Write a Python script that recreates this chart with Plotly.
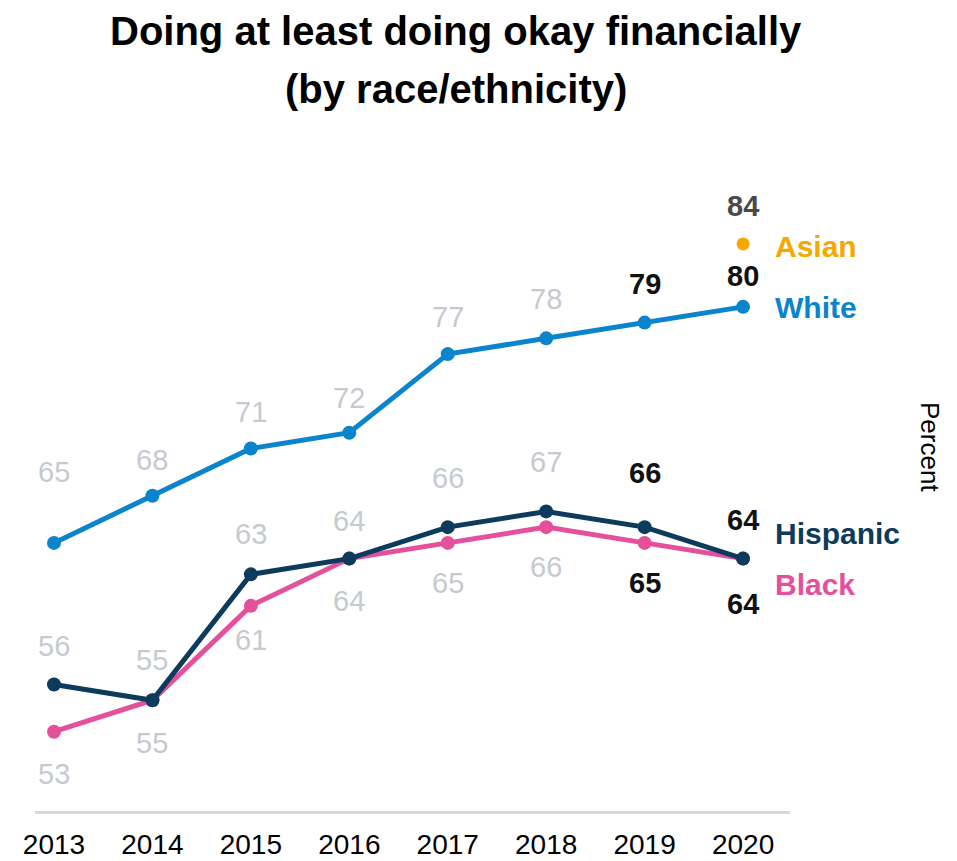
import plotly.graph_objects as go

years = [2013, 2014, 2015, 2016, 2017, 2018, 2019, 2020]
white = [65, 68, 71, 72, 77, 78, 79, 80]
hispanic = [56, 55, 63, 64, 66, 67, 66, 64]
black = [53, 55, 61, 64, 65, 66, 65, 64]
asian_year = [2020]
asian = [84]

# value-label vertical offsets (px) per point
white_shift = [71, 36, 36, 35, 37, 39, 39, 31]
hisp_shift = [39, 40, 40, 38, 49, 49, 54, 39]
black_shift = [-42, -43, -34, -42, -40, -40, -40, -45]

C_WHITE = "#0a84cc"
C_HISP = "#0d3b5b"
C_BLACK = "#e4509c"
C_ASIAN = "#f7a800"
C_GRAY = "#c6cad0"

FONT = "Liberation Sans Narrow, Arial Narrow, Liberation Sans, Arial, sans-serif"

fig = go.Figure()
for vals, col in [(black, C_BLACK), (hispanic, C_HISP), (white, C_WHITE)]:
    fig.add_trace(go.Scatter(
        x=years, y=vals, mode="lines+markers",
        line=dict(color=col, width=5),
        marker=dict(color=col, size=14),
        hoverinfo="skip", showlegend=False,
    ))
fig.add_trace(go.Scatter(
    x=asian_year, y=asian, mode="markers",
    marker=dict(color=C_ASIAN, size=13),
    hoverinfo="skip", showlegend=False,
))

ann = []


def value_label(x, y, shift, bold, color):
    txt = f"<b>{y}</b>" if bold else str(y)
    ann.append(dict(x=x, y=y, xref="x", yref="y", text=txt, showarrow=False,
                    yshift=shift, xanchor="center", yanchor="middle",
                    font=dict(family=FONT, size=29, color=color)))


for series, shifts in [(white, white_shift), (hispanic, hisp_shift), (black, black_shift)]:
    for i, (yr, v) in enumerate(zip(years, series)):
        bold = yr >= 2019
        value_label(yr, v, shifts[i], bold, "#111111" if bold else C_GRAY)
value_label(asian_year[0], asian[0], 38, True, "#4a4a4a")

# series names at the right end
for name, yv, col, ys in [("Asian", 84, C_ASIAN, -3), ("White", 80, C_WHITE, -1),
                          ("Hispanic", 64, C_HISP, 25), ("Black", 64, C_BLACK, -26)]:
    ann.append(dict(x=2020, y=yv, xref="x", yref="y", text=f"<b>{name}</b>",
                    showarrow=False, xanchor="left", yanchor="middle",
                    xshift=30, yshift=ys,
                    font=dict(family=FONT, size=30, color=col)))

# two-line heading
ann.append(dict(x=456, y=861 - 31, xref="paper", yref="paper", text="<b>Doing at least doing okay financially</b>",
                showarrow=False, xanchor="center", yanchor="middle",
                font=dict(family=FONT, size=40, color="#000000")))
ann.append(dict(x=456, y=861 - 89, xref="paper", yref="paper", text="<b>(by race/ethnicity)</b>",
                showarrow=False, xanchor="center", yanchor="middle",
                font=dict(family=FONT, size=40, color="#000000")))
ann.append(dict(x=930, y=861 - 447, xref="paper", yref="paper", text="Percent",
                showarrow=False, textangle=90, xanchor="center", yanchor="middle",
                font=dict(family=FONT, size=26, color="#000000")))

# convert pixel-positioned paper annotations into paper fractions
L, R, T, B = 35, 167, 181, 50
W, H = 957, 861
pw, ph = W - L - R, H - T - B
for a in ann:
    if a["xref"] == "paper":
        a["x"] = (a["x"] - L) / pw
        a["y"] = (a["y"] - B) / ph

fig.update_layout(
    width=W, height=H,
    margin=dict(l=L, r=R, t=T, b=B, pad=0, autoexpand=False),
    paper_bgcolor="white", plot_bgcolor="white",
    annotations=ann,
    xaxis=dict(range=[2012.807, 2020.477], tickmode="array", tickvals=years,
               ticktext=[str(y) for y in years], showgrid=False, zeroline=False,
               showline=True, linecolor="#d9d9d9", linewidth=3, automargin=False,
               ticks="outside", ticklen=6, tickcolor="rgba(0,0,0,0)",
               tickfont=dict(family=FONT, size=28, color="#000000")),
    yaxis=dict(range=[47.96, 88], showgrid=False, zeroline=False, showticklabels=False,
               showline=False, ticks="", automargin=False),
)

fig.write_html("out.html")
